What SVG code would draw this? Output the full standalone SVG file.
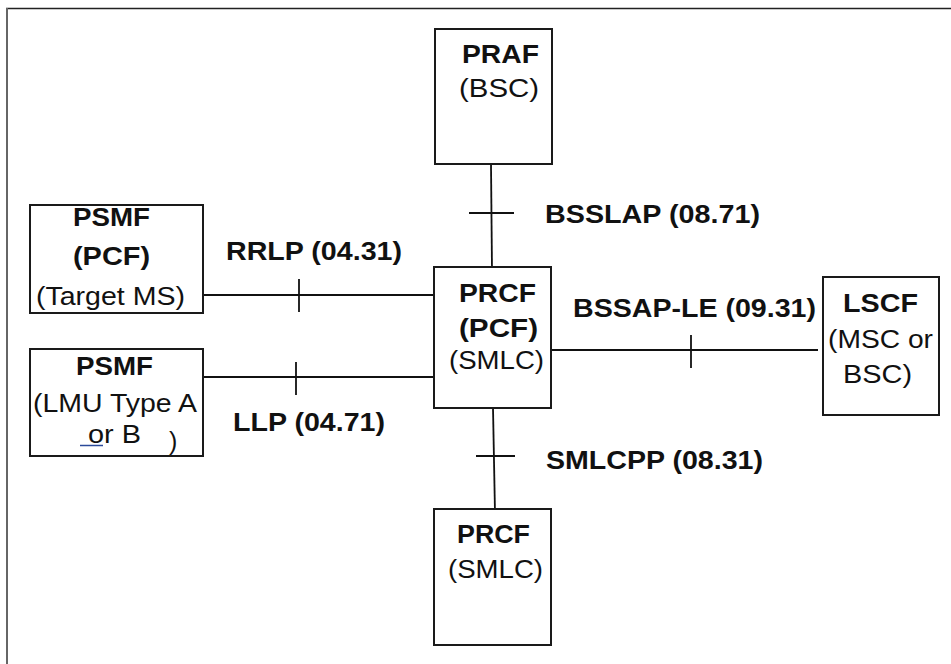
<svg xmlns="http://www.w3.org/2000/svg" width="951" height="664" viewBox="0 0 951 664">
<style>
.box{fill:#fff;stroke:#1a1a1a;stroke-width:2}
.ln{stroke:#111;stroke-width:1.8;fill:none}
.b{font-family:"Liberation Sans",Arial,sans-serif;font-weight:bold;font-size:25px;fill:#111}
.r{font-family:"Liberation Sans",Arial,sans-serif;font-size:25px;fill:#111}
.lb{font-size:26px}
</style>
<rect x="0" y="0" width="951" height="664" fill="#fff"/>
<line x1="6" y1="8.5" x2="951" y2="8.5" stroke="#222" stroke-width="1.6"/>
<line x1="7" y1="8" x2="7" y2="664" stroke="#666" stroke-width="2"/>
<g id="connectors">
<line class="ln" x1="491" y1="164" x2="492" y2="271"/>
<line class="ln" x1="469" y1="213" x2="514" y2="213"/>
<line class="ln" x1="203" y1="295" x2="437" y2="295"/>
<line class="ln" x1="299" y1="279" x2="299" y2="312"/>
<line class="ln" x1="203" y1="377" x2="434" y2="377"/>
<line class="ln" x1="296" y1="362" x2="296" y2="395"/>
<line class="ln" x1="552" y1="350" x2="818" y2="350"/>
<line class="ln" x1="691" y1="335" x2="691" y2="368"/>
<line class="ln" x1="493" y1="408" x2="495" y2="513"/>
<line class="ln" x1="476" y1="456" x2="515" y2="456"/>
<text class="b lb" x="545" y="223" textLength="215" lengthAdjust="spacingAndGlyphs">BSSLAP (08.71)</text>
<text class="b lb" x="226" y="260" textLength="176" lengthAdjust="spacingAndGlyphs">RRLP (04.31)</text>
<text class="b lb" x="573" y="317" textLength="243" lengthAdjust="spacingAndGlyphs">BSSAP-LE (09.31)</text>
<text class="b lb" x="233" y="431" textLength="152" lengthAdjust="spacingAndGlyphs">LLP (04.71)</text>
<text class="b lb" x="546" y="469" textLength="217" lengthAdjust="spacingAndGlyphs">SMLCPP (08.31)</text>
</g>
<g id="praf">
<rect class="box" x="435" y="29" width="117" height="135"/>
<text class="b" x="462" y="63" textLength="77" lengthAdjust="spacingAndGlyphs">PRAF</text>
<text class="r" x="459" y="97" textLength="80" lengthAdjust="spacingAndGlyphs">(BSC)</text>
</g>
<g id="psmf-ms">
<rect class="box" x="30" y="205" width="173" height="108"/>
<text class="b" x="73" y="226" textLength="77" lengthAdjust="spacingAndGlyphs">PSMF</text>
<text class="b" x="73" y="265" textLength="77" lengthAdjust="spacingAndGlyphs">(PCF)</text>
<text class="r" x="36" y="305" textLength="149" lengthAdjust="spacingAndGlyphs">(Target MS)</text>
</g>
<g id="psmf-lmu">
<rect class="box" x="30" y="349" width="173" height="107"/>
<text class="b" x="76" y="375" textLength="77" lengthAdjust="spacingAndGlyphs">PSMF</text>
<text class="r" x="33" y="412" textLength="164" lengthAdjust="spacingAndGlyphs">(LMU Type A</text>
<text class="r" x="88" y="443" textLength="53" lengthAdjust="spacingAndGlyphs">or B</text>
<text class="r" x="169" y="450">)</text>
<line x1="80" y1="445.5" x2="103" y2="445.5" stroke="#2b4a9a" stroke-width="1.5"/>
</g>
<g id="prcf-pcf">
<rect class="box" x="434" y="267" width="117" height="141"/>
<text class="b" x="459" y="302" textLength="77" lengthAdjust="spacingAndGlyphs">PRCF</text>
<text class="b" x="459" y="337" textLength="79" lengthAdjust="spacingAndGlyphs">(PCF)</text>
<text class="r" x="449" y="369" textLength="95" lengthAdjust="spacingAndGlyphs">(SMLC)</text>
</g>
<g id="lscf">
<rect class="box" x="823" y="277" width="116" height="138"/>
<text class="b" x="843" y="312" textLength="75" lengthAdjust="spacingAndGlyphs">LSCF</text>
<text class="r" x="828" y="348" textLength="105" lengthAdjust="spacingAndGlyphs">(MSC or</text>
<text class="r" x="843" y="383" textLength="69" lengthAdjust="spacingAndGlyphs">BSC)</text>
</g>
<g id="prcf-smlc">
<rect class="box" x="434" y="509" width="117" height="136"/>
<text class="b" x="457" y="543" textLength="73" lengthAdjust="spacingAndGlyphs">PRCF</text>
<text class="r" x="448" y="578" textLength="95" lengthAdjust="spacingAndGlyphs">(SMLC)</text>
</g>
</svg>
